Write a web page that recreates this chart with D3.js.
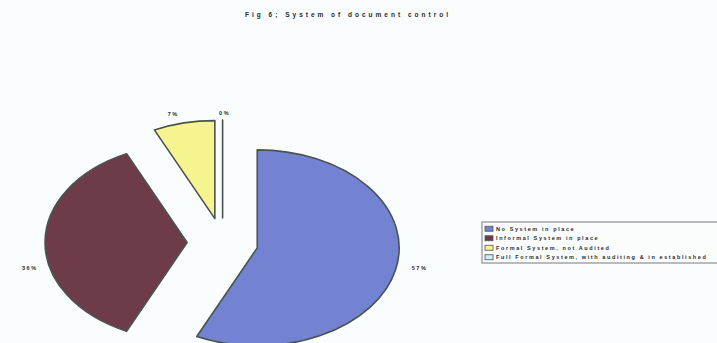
<!DOCTYPE html>
<html>
<head>
<meta charset="utf-8">
<script src="https://cdn.jsdelivr.net/npm/d3@7"></script>
<style>
  html, body { margin: 0; padding: 0; background: #fafdfd; }
  svg { display: block; }
  text { font-family: "Liberation Sans", Arial, sans-serif; fill: #2a2a2a; }
</style>
</head>
<body>
<svg id="chart" width="717" height="343"></svg>
<script>
// Survey responses: how document control is handled
const categories = [
  "No System in place",
  "Informal System in place",
  "Formal System, not Audited",
  "Full Formal System, with auditing & in established"
];
const values = [57, 36, 7, 0];
const colors = ["#7383d2", "#6e3c48", "#f6f48e", "#cdeff0"];
const title = "Fig 6; System of document control";

const W = 717, H = 343;
const svg = d3.select("#chart");

// pie geometry (elliptical, exploded slices)
const cx = 222.6, cy = 242.5, rx = 142, ry = 98, explode = 0.25;
// label nudges per slice [dx, dy] after radial placement
const labelShift = [[3, -4], [6, 25], [-6, 5], [2, 8]];

svg.append("text")
  .attr("x", 348).attr("y", 17)
  .attr("text-anchor", "middle")
  .style("font-size", "6.5px").style("font-weight", "bold")
  .style("letter-spacing", "3px")
  .text(title);

const pie = d3.pie().sort(null).value(d => d)(values);
const arc = d3.arc().innerRadius(0).outerRadius(1);

const slices = svg.append("g");
pie.forEach((p, i) => {
  const m = (p.startAngle + p.endAngle) / 2;
  const ox = Math.sin(m) * explode * rx;
  const oy = -Math.cos(m) * explode * ry;
  slices.append("path")
    .attr("transform", `translate(${cx + ox},${cy + oy}) scale(${rx},${ry})`)
    .attr("d", arc(p))
    .attr("fill", colors[i])
    .attr("stroke", "#4a5252")
    .attr("stroke-width", 1.6)
    .attr("stroke-linejoin", "round")
    .attr("vector-effect", "non-scaling-stroke");

  const k = 1.15;
  const lx = cx + ox + Math.sin(m) * rx * k + labelShift[i][0];
  const ly = cy + oy - Math.cos(m) * ry * k + labelShift[i][1];
  svg.append("text")
    .attr("x", lx).attr("y", ly + 2)
    .attr("text-anchor", "middle")
    .style("font-size", "5.5px").style("font-weight", "bold")
    .style("letter-spacing", "1.6px")
    .text(Math.round(p.data) + "%");
});

// legend
const lg = svg.append("g").attr("transform", "translate(482,222)");
lg.append("rect")
  .attr("x", 0).attr("y", 0).attr("width", 260).attr("height", 41)
  .attr("fill", "#fbfdfd").attr("stroke", "#8a8f90").attr("stroke-width", 1.2);
const rowY = d3.scaleBand().domain(d3.range(categories.length)).range([2, 40]);
categories.forEach((c, i) => {
  const y = rowY(i) + rowY.bandwidth() / 2;
  lg.append("rect")
    .attr("x", 3).attr("y", y - 2.5).attr("width", 8).attr("height", 5)
    .attr("fill", colors[i]).attr("stroke", "#555").attr("stroke-width", 0.8);
  lg.append("text")
    .attr("x", 14).attr("y", y + 2)
    .style("font-size", "5.5px").style("font-weight", "bold")
    .style("letter-spacing", "1.6px")
    .text(c);
});
</script>
</body>
</html>
